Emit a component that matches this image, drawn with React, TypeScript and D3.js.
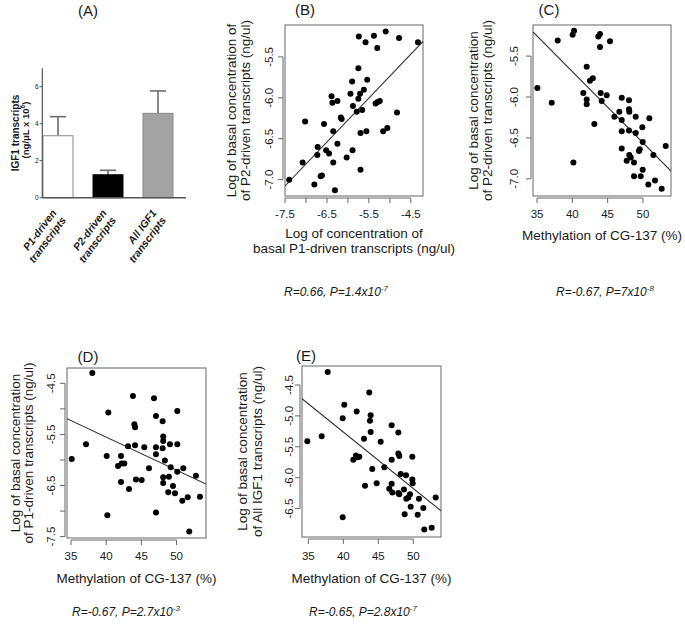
import React from 'react';
import * as d3 from 'd3';

const FONT = '"Liberation Sans", Arial, Helvetica, sans-serif';
const INK = '#1a1a1a';
const FRAME = '#666';

// ---- panel A: bar chart ----
const barNames = ['P1', 'P2', 'All'];
const barLabels = [
  ['P1-driven', 'transcripts'],
  ['P2-driven', 'transcripts'],
  ['All IGF1', 'transcripts'],
];
const barMeans = [3.35, 1.24, 4.56];
const barErrors = [1.03, 0.24, 1.21];
const barFills = ['#ffffff', '#000000', '#a3a3a3'];
const barStrokes = ['#8a8a8a', '#000000', '#8a8a8a'];
const barTicks = [0, 2, 4, 6];

// ---- panel B: P2 vs P1 (log conc) ----
const pointsB: [number, number][] = [
  [-7.40, -7.00], [-7.08, -6.79], [-7.02, -6.29], [-6.80, -7.06], [-6.72, -6.60],
  [-6.73, -6.70], [-6.65, -6.96], [-6.62, -6.95], [-6.57, -6.32], [-6.52, -6.64],
  [-6.45, -6.68], [-6.39, -5.98], [-6.37, -6.06], [-6.35, -6.41], [-6.35, -6.79],
  [-6.31, -7.13], [-6.25, -6.04], [-6.25, -6.56], [-6.17, -6.24], [-6.15, -6.26],
  [-6.03, -6.73], [-5.94, -5.95], [-5.90, -5.80], [-5.89, -6.64], [-5.88, -6.10],
  [-5.79, -6.17], [-5.75, -5.64], [-5.75, -6.01], [-5.74, -5.25], [-5.71, -5.95],
  [-5.70, -6.43], [-5.70, -6.88], [-5.66, -6.15], [-5.62, -5.90], [-5.58, -5.32],
  [-5.56, -6.41], [-5.54, -5.78], [-5.38, -5.24], [-5.34, -6.07], [-5.30, -5.39],
  [-5.29, -6.05], [-5.24, -6.04], [-5.16, -6.41], [-5.10, -5.19], [-5.06, -6.37],
  [-4.83, -6.18], [-4.78, -5.27], [-4.33, -5.32],
];
const fitB = [-3.05, 0.537];

// ---- panel C: P2 vs methylation ----
const pointsC: [number, number][] = [
  [35.05, -5.89], [37.08, -6.07], [37.93, -5.31], [40.05, -5.24], [40.24, -5.19],
  [40.15, -6.80], [41.56, -5.95], [42.04, -5.63], [42.04, -6.03], [42.04, -6.09],
  [42.5, -5.80], [42.9, -5.77], [43.12, -6.33], [43.68, -5.26], [43.92, -5.23],
  [43.92, -5.39], [44.02, -5.95], [44.16, -6.05], [44.87, -5.98], [45.34, -5.32],
  [45.95, -6.24], [46.66, -6.18], [47.0, -6.01], [47.0, -6.28], [47.0, -6.42],
  [47.0, -6.63], [47.7, -6.78], [48.03, -6.04], [48.03, -6.15], [48.07, -6.18],
  [48.03, -6.41], [48.07, -6.71], [48.27, -6.74], [48.74, -6.80], [48.74, -6.97],
  [48.98, -6.24], [48.98, -6.44], [49.45, -6.66], [49.55, -6.64], [49.69, -6.97],
  [49.92, -6.37], [49.97, -6.55], [49.97, -6.89], [50.77, -7.07], [50.91, -6.26],
  [51.48, -6.71], [51.71, -7.02], [52.66, -7.12], [53.23, -6.60],
];
const fitC = [-2.21, -0.087];

// ---- panel D: P1 vs methylation ----
const pointsD: [number, number][] = [
  [35.1, -5.98], [37.13, -5.69], [38.03, -4.30], [40.07, -5.92], [40.3, -5.07],
  [40.16, -7.08], [41.68, -6.12], [42.1, -5.92], [42.2, -6.07], [42.57, -6.07],
  [42.1, -6.43], [43.1, -5.73], [43.24, -6.57], [43.8, -4.75], [44.0, -5.30],
  [44.1, -5.36], [44.1, -5.71], [44.23, -6.38], [45.04, -6.39], [45.41, -5.75],
  [46.08, -6.16], [46.79, -4.79], [47.07, -5.14], [47.07, -5.75], [47.07, -5.89],
  [47.07, -7.03], [48.02, -5.24], [48.1, -5.54], [48.1, -5.63], [48.02, -5.77],
  [48.1, -6.34], [48.1, -6.45], [48.34, -6.01], [48.91, -6.33], [48.82, -6.63],
  [49.06, -5.69], [49.16, -6.14], [49.49, -6.51], [49.77, -6.65], [50.1, -5.04],
  [50.1, -5.69], [50.1, -6.23], [50.81, -6.80], [50.95, -6.16], [51.58, -6.73],
  [51.8, -7.40], [52.75, -6.31], [53.32, -6.72],
];
const fitD = [-2.96, -0.0648];

// ---- panel E: all IGF1 vs methylation ----
const pointsE: [number, number][] = [
  [34.86, -5.41], [36.91, -5.33], [37.77, -4.29], [39.91, -5.04], [40.14, -4.82],
  [39.91, -6.64], [41.43, -5.71], [41.81, -5.64], [41.91, -4.93], [42.0, -5.67],
  [42.29, -5.66], [42.96, -5.37], [43.1, -6.13], [43.71, -4.62], [43.81, -5.08],
  [43.91, -4.99], [43.91, -5.26], [44.14, -5.86], [44.77, -6.09], [45.34, -5.42],
  [45.86, -5.83], [46.57, -6.18], [46.91, -5.15], [46.91, -5.71], [46.91, -6.10],
  [47.0, -6.24], [47.86, -5.27], [47.86, -5.61], [48.0, -5.65], [47.86, -6.25],
  [48.0, -6.27], [48.2, -5.94], [48.67, -6.19], [48.77, -6.59], [48.96, -5.96],
  [49.0, -6.34], [49.29, -6.32], [49.53, -6.27], [49.63, -6.47], [49.86, -6.03],
  [49.91, -6.09], [49.86, -5.66], [50.63, -6.60], [50.81, -6.34], [51.43, -6.49],
  [51.57, -6.84], [52.63, -6.81], [53.2, -6.32],
];
const fitE = [-1.61, -0.0913];

const logTicksB = [-7.5, -7.0, -6.5, -6.0, -5.5, -5.0, -4.5];
const logLabelsB = [-7.5, -6.5, -5.5, -4.5];
const yTicksBC = [-7.0, -6.5, -6.0, -5.5];
const methTicks = [35, 40, 45, 50];
const yTicksD = [-7.5, -7.0, -6.5, -6.0, -5.5, -5.0, -4.5];
const yLabelsD = [-7.5, -6.5, -5.5, -4.5];
const yTicksE = [-6.5, -6.0, -5.5, -5.0, -4.5];

interface PanelProps {
  id: string;
  box: [number, number, number, number]; // left, right, top, bottom
  xDomain: [number, number];
  yDomain: [number, number];
  xTicks: number[];
  xLabels: number[];
  yTicks: number[];
  yLabels: number[];
  points: [number, number][];
  fit: number[];
  title: string;
  titlePos: [number, number];
  yTitle: string[];
  yTitleX: number[];
  yTickGap: number;
  tickLabelY: number;
  xTitle: string[];
  xTitleY: number[];
  stat: string[];
  statPos: [number, number];
}

const fmt = (v: number, dec: number) => v.toFixed(dec);

function ScatterPanel(p: PanelProps) {
  const [l, r, t, b] = p.box;
  const x = d3.scaleLinear().domain(p.xDomain).range([l, r]);
  const y = d3.scaleLinear().domain(p.yDomain).range([b, t]);
  const line = d3
    .line<number>()
    .x((d) => x(d))
    .y((d) => y(p.fit[0] + p.fit[1] * d));
  const xDec = p.xTicks.some((v) => v % 1 !== 0) ? 1 : 0;
  const yMid = (t + b) / 2;
  const xMid = (l + r) / 2;
  return (
    <g>
      <defs>
        <clipPath id={`clip-${p.id}`}>
          <rect x={l} y={t} width={r - l} height={b - t} />
        </clipPath>
      </defs>
      <text x={p.titlePos[0]} y={p.titlePos[1]} fontSize={15} textAnchor="middle" fill={INK}>
        {p.title}
      </text>
      <rect x={l} y={t} width={r - l} height={b - t} fill="none" stroke={FRAME} strokeWidth={1} />
      {/* x axis */}
      <line
        x1={x(p.xTicks[0])}
        x2={x(p.xTicks[p.xTicks.length - 1])}
        y1={b + 2}
        y2={b + 2}
        stroke={FRAME}
      />
      {p.xTicks.map((v) => (
        <line key={`xt${v}`} x1={x(v)} x2={x(v)} y1={b + 2} y2={b + 7} stroke={FRAME} />
      ))}
      {p.xLabels.map((v) => (
        <text key={`xl${v}`} x={x(v)} y={p.tickLabelY} fontSize={11.5} textAnchor="middle" fill={INK}>
          {fmt(v, xDec)}
        </text>
      ))}
      {/* y axis */}
      <line
        x1={l - 2}
        x2={l - 2}
        y1={y(p.yTicks[0])}
        y2={y(p.yTicks[p.yTicks.length - 1])}
        stroke={FRAME}
      />
      {p.yTicks.map((v) => (
        <line key={`yt${v}`} x1={l - 7} x2={l - 2} y1={y(v)} y2={y(v)} stroke={FRAME} />
      ))}
      {p.yLabels.map((v) => (
        <text
          key={`yl${v}`}
          transform={`translate(${l - p.yTickGap},${y(v)}) rotate(-90)`}
          fontSize={11.5}
          textAnchor="middle"
          fill={INK}
        >
          {fmt(v, 1)}
        </text>
      ))}
      {p.yTitle.map((s, i) => (
        <text
          key={`yti${i}`}
          transform={`translate(${p.yTitleX[i]},${yMid}) rotate(-90)`}
          fontSize={13.5}
          textAnchor="middle"
          fill={INK}
        >
          {s}
        </text>
      ))}
      {p.xTitle.map((s, i) => (
        <text key={`xti${i}`} x={xMid} y={p.xTitleY[i]} fontSize={13.5} textAnchor="middle" fill={INK}>
          {s}
        </text>
      ))}
      <g clipPath={`url(#clip-${p.id})`}>
        <path d={line(p.xDomain) || ''} stroke="#333" strokeWidth={1.1} fill="none" />
      </g>
      {p.points.map((d, i) => (
        <circle key={i} cx={x(d[0])} cy={y(d[1])} r={3} fill="#000" />
      ))}
      <text
        x={p.statPos[0]}
        y={p.statPos[1]}
        fontSize={12}
        fontStyle="italic"
        textAnchor="middle"
        fill={INK}
      >
        <tspan>{`R=${p.stat[0]}, P=${p.stat[1]}x10`}</tspan>
        <tspan dy={-5} fontSize={8}>
          {p.stat[2]}
        </tspan>
      </text>
    </g>
  );
}

function BarPanel() {
  const x = d3.scaleBand<string>().domain(barNames).range([33, 183]).paddingInner(0.4).paddingOuter(0.2);
  const y = d3.scaleLinear().domain([0, 7]).range([197.7, 68.2]);
  const bw = x.bandwidth();
  return (
    <g>
      <text x={88} y={16} fontSize={15} textAnchor="middle" fill={INK}>
        (A)
      </text>
      {barNames.map((n, i) => {
        const cx = (x(n) as number) + bw / 2;
        return (
          <g key={n}>
            <line x1={cx} x2={cx} y1={y(barMeans[i])} y2={y(barMeans[i] + barErrors[i])} stroke="#6b6b6b" strokeWidth={1.6} />
            <line x1={cx - 8} x2={cx + 8} y1={y(barMeans[i] + barErrors[i])} y2={y(barMeans[i] + barErrors[i])} stroke="#6b6b6b" strokeWidth={1.6} />
            <rect
              x={x(n)}
              y={y(barMeans[i])}
              width={bw}
              height={y(0) - y(barMeans[i])}
              fill={barFills[i]}
              stroke={barStrokes[i]}
              strokeWidth={1}
            />
            <text
              transform={`translate(${cx - 1},213) rotate(-53)`}
              fontSize={10.5}
              fontWeight="bold"
              fontStyle="italic"
              textAnchor="end"
              fill={INK}
            >
              <tspan x={0}>{barLabels[i][0]}</tspan>
              <tspan x={0} dy={12}>
                {barLabels[i][1]}
              </tspan>
            </text>
          </g>
        );
      })}
      <line x1={42.3} x2={42.3} y1={y(0)} y2={y(7)} stroke="#555" strokeWidth={1.2} />
      <line x1={42.3} x2={186} y1={y(0)} y2={y(0)} stroke="#555" strokeWidth={1.4} />
      {barTicks.map((v) => (
        <g key={v}>
          <line x1={39.5} x2={42.3} y1={y(v)} y2={y(v)} stroke="#555" />
          <text x={38.5} y={y(v)} dy="0.35em" fontSize={6.5} textAnchor="end" fill={INK}>
            {v}
          </text>
        </g>
      ))}
      <text transform={`translate(19,133) rotate(-90)`} fontSize={10} fontWeight="bold" textAnchor="middle" fill={INK}>
        IGF1 transcripts
      </text>
      <text transform={`translate(29,130) rotate(-90)`} fontSize={9.5} fontWeight="bold" textAnchor="middle" fill={INK}>
        <tspan>(ng/μL x 10</tspan>
        <tspan dy={-4} fontSize={6.5}>6</tspan>
        <tspan dy={4}>)</tspan>
      </text>
    </g>
  );
}

export default function App() {
  return (
    <svg
      width={685}
      height={630}
      style={{ position: 'absolute', left: 0, top: 0, background: '#fff', fontFamily: FONT }}
    >
      <rect width={685} height={630} fill="#fff" />
      <BarPanel />
      <ScatterPanel
        id="b"
        box={[285, 423, 25, 196]}
        xDomain={[-7.5, -4.21]}
        yDomain={[-7.2, -5.11]}
        xTicks={logTicksB}
        xLabels={logLabelsB}
        yTicks={yTicksBC}
        yLabels={yTicksBC}
        points={pointsB}
        fit={fitB}
        title="(B)"
        titlePos={[305, 15]}
        yTitle={['Log of basal concentration of', 'of P2-driven transcripts (ng/ul)']}
        yTitleX={[236, 250]}
        yTickGap={12}
        tickLabelY={218}
        xTitle={['Log of concentration of', 'basal P1-driven transcripts (ng/ul)']}
        xTitleY={[238, 253]}
        stat={['0.66', '1.4', '-7']}
        statPos={[336, 296]}
      />
      <ScatterPanel
        id="c"
        box={[533, 671, 25, 196]}
        xDomain={[34.43, 53.98]}
        yDomain={[-7.21, -5.12]}
        xTicks={methTicks}
        xLabels={methTicks}
        yTicks={yTicksBC}
        yLabels={yTicksBC}
        points={pointsC}
        fit={fitC}
        title="(C)"
        titlePos={[549, 15]}
        yTitle={['Log of basal concentration', 'of P2-driven transcripts (ng/ul)']}
        yTitleX={[478, 492]}
        yTickGap={15}
        tickLabelY={218}
        xTitle={['Methylation of CG-137 (%)']}
        xTitleY={[240]}
        stat={['-0.67', '7', '-8']}
        statPos={[605, 296]}
      />
      <ScatterPanel
        id="d"
        box={[67, 206, 368, 538]}
        xDomain={[34.43, 54.18]}
        yDomain={[-7.527, -4.2]}
        xTicks={methTicks}
        xLabels={methTicks}
        yTicks={yTicksD}
        yLabels={yLabelsD}
        points={pointsD}
        fit={fitD}
        title="(D)"
        titlePos={[88, 362]}
        yTitle={['Log of basal concentration', 'of P1-driven transcripts (ng/ul)']}
        yTitleX={[20, 33]}
        yTickGap={12}
        tickLabelY={560}
        xTitle={['Methylation of CG-137 (%)']}
        xTitleY={[583]}
        stat={['-0.67', '2.7', '-3']}
        statPos={[126, 616]}
      />
      <ScatterPanel
        id="e"
        box={[302, 441, 366, 537]}
        xDomain={[34.1, 53.96]}
        yDomain={[-6.96, -4.193]}
        xTicks={methTicks}
        xLabels={methTicks}
        yTicks={yTicksE}
        yLabels={yTicksE}
        points={pointsE}
        fit={fitE}
        title="(E)"
        titlePos={[306, 361]}
        yTitle={['Log of basal concentration', 'of All IGF1 transcripts (ng/ul)']}
        yTitleX={[247, 262]}
        yTickGap={9}
        tickLabelY={560}
        xTitle={['Methylation of CG-137 (%)']}
        xTitleY={[583]}
        stat={['-0.65', '2.8', '-7']}
        statPos={[363, 616]}
      />
    </svg>
  );
}
